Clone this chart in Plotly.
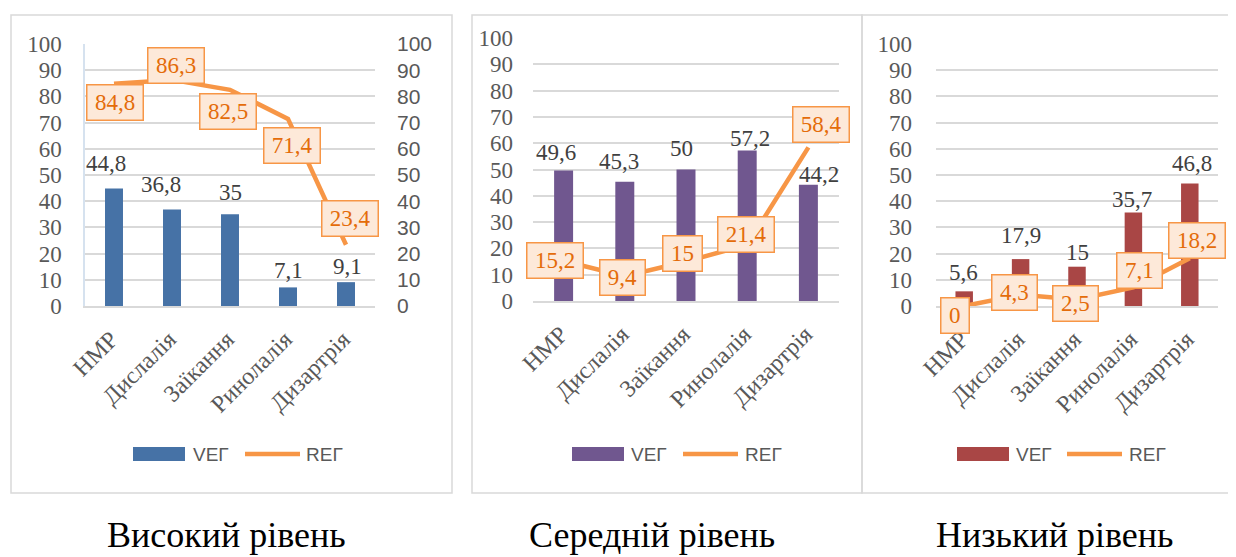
import plotly.graph_objects as go

# ---------------- data ----------------
categories = ["НМР", "Дислалія", "Заїкання", "Ринолалія", "Дизартрія"]
high_veg = [44.8, 36.8, 35, 7.1, 9.1]
high_reg = [84.8, 86.3, 82.5, 71.4, 23.4]
mid_veg = [49.6, 45.3, 50, 57.2, 44.2]
mid_reg = [15.2, 9.4, 15, 21.4, 58.4]
low_veg = [5.6, 17.9, 15, 35.7, 46.8]
low_reg = [0, 4.3, 2.5, 7.1, 18.2]
panel_titles = ["Високий рівень", "Середній рівень", "Низький рівень"]
series_names = ["VEГ", "REГ"]
y_ticks = [0, 10, 20, 30, 40, 50, 60, 70, 80, 90, 100]

# ---------------- styling / layout (pixels) ----------------
PAGE_OFF = 8          # default body margin of the page
W, H = 1236 - PAGE_OFF, 557 - PAGE_OFF
SERIF = "Liberation Serif, Times New Roman, serif"
SANS = "Liberation Sans, Arial, sans-serif"
GRAY = "#595959"
GRID = "#D9D9D9"
LINE_C = "#F79646"
LABEL_TXT = "#E46C0A"
LABEL_BG = "#FDE9D9"
bar_colors = ["#4672A6", "#70578F", "#A94645"]

# plot areas in window pixels: (x0, x1, ytop, ybottom)
areas = [(85, 375, 44, 306), (533, 839, 38, 301), (936, 1218, 44, 306)]
frames = [(11, 452, 15, 493), (472, 862, 15, 493), (862, 1250, 15, 493)]
y_standoff = [17, 19, 23]
# legend positions: rect x0, text x, line x0, text x
legend_pos = [(133, 191, 245, 304), (572, 629, 683, 743), (957, 1014, 1067, 1127)]
title_pos = [(226, 557), (652, 557), (1054, 557)]

# bar-label offsets (dx, px above bar top) and line-label offsets (dx, dy down)
bar_lab_off = [
    [(-8, 25), (-11, 25), (0, 22), (0, 17), (1, 16)],
    [(-8, 18), (-6, 20), (-5, 21), (3, 12), (11, 10)],
    [(-1, 19), (0, 24), (0, 14), (-1, 13), (2, 20)],
]
line_lab_off = [
    [(1, 19), (4, -14), (-2, 22), (4, 27), (4, -26)],
    [(-9, -1), (-2, 1), (-4, -8), (-1, -10), (13, -23)],
    [(-9, 9), (-6, -2), (-2, 4), (6, -17), (7, -18)],
]


def px(x):
    return (x - PAGE_OFF) / W


def py(y):
    return 1 - (y - PAGE_OFF) / H


def fmt(v):
    return f"{v:g}".replace(".", ",")


def text_w(s, size=23):
    w = 0
    for ch in s:
        w += size * (0.25 if ch == "," else 0.5)
    return w


fig = go.Figure()

veg_sets = [high_veg, mid_veg, low_veg]
reg_sets = [high_reg, mid_reg, low_reg]
xa = ["x", "x2", "x3"]
ya_bar = ["y", "y2", "y3"]
ya_line = ["y4", "y2", "y3"]

for i in range(3):
    fig.add_trace(go.Bar(
        x=categories, y=veg_sets[i], name=series_names[0],
        marker=dict(color=bar_colors[i], line=dict(width=0)),
        width=0.31, xaxis=xa[i], yaxis=ya_bar[i], showlegend=False,
        hoverinfo="skip",
    ))
    fig.add_trace(go.Scatter(
        x=categories, y=reg_sets[i], name=series_names[1], mode="lines",
        line=dict(color=LINE_C, width=4.5), xaxis=xa[i], yaxis=ya_line[i],
        showlegend=False, hoverinfo="skip", cliponaxis=False,
    ))

annotations = []
shapes = []

for i in range(3):
    # bar value labels
    for j, (c, v) in enumerate(zip(categories, veg_sets[i])):
        dx, up = bar_lab_off[i][j]
        annotations.append(dict(
            x=c, y=v, xref=xa[i], yref=ya_bar[i], text=fmt(v), showarrow=False,
            xshift=dx, yshift=up, yanchor="middle", xanchor="center",
            font=dict(family=SERIF, size=23, color="#404040"),
        ))
    # line value labels (boxed)
    for j, (c, v) in enumerate(zip(categories, reg_sets[i])):
        dx, dy = line_lab_off[i][j]
        t = fmt(v)
        annotations.append(dict(
            x=c, y=v, xref=xa[i], yref=ya_line[i], text=t, showarrow=False,
            xshift=dx, yshift=-dy, yanchor="middle", xanchor="center",
            width=text_w(t) + 9, height=28, borderpad=3,
            bgcolor=LABEL_BG, bordercolor=LINE_C, borderwidth=1.5,
            font=dict(family=SERIF, size=23, color=LABEL_TXT),
        ))
    # panel frame
    fx0, fx1, fy0, fy1 = frames[i]
    shapes.append(dict(type="rect", xref="paper", yref="paper",
                       x0=px(fx0), x1=px(fx1), y0=py(fy1), y1=py(fy0),
                       line=dict(color=GRID, width=1.5), layer="below"))
    # legend
    rx, tx1, lx, tx2 = legend_pos[i]
    ly = 454
    shapes.append(dict(type="rect", xref="paper", yref="paper",
                       x0=px(rx), x1=px(rx + 52), y0=py(ly + 7), y1=py(ly - 7),
                       fillcolor=bar_colors[i], line=dict(width=0)))
    shapes.append(dict(type="line", xref="paper", yref="paper",
                       x0=px(lx), x1=px(lx + 55), y0=py(ly), y1=py(ly),
                       line=dict(color=LINE_C, width=4.5)))
    annotations.append(dict(x=px(tx1), y=py(ly), xref="paper", yref="paper",
                            text=series_names[0], showarrow=False, xanchor="left",
                            yanchor="middle",
                            font=dict(family=SANS, size=19, color=GRAY)))
    annotations.append(dict(x=px(tx2), y=py(ly), xref="paper", yref="paper",
                            text=series_names[1], showarrow=False, xanchor="left",
                            yanchor="middle",
                            font=dict(family=SANS, size=19, color=GRAY)))
    # panel title
    tx, ty = title_pos[i]
    annotations.append(dict(x=px(tx), y=py(ty), xref="paper", yref="paper",
                            text=panel_titles[i], showarrow=False,
                            xanchor="center", yanchor="bottom",
                            font=dict(family=SERIF, size=36, color="#000000")))

layout = dict(
    width=W, height=H,
    margin=dict(l=0, r=0, t=0, b=0, pad=0, autoexpand=False),
    paper_bgcolor="white", plot_bgcolor="white",
    showlegend=False, annotations=annotations, shapes=shapes,
)

for i in range(3):
    x0, x1, yt, yb = areas[i]
    xname = "xaxis" if i == 0 else f"xaxis{i + 1}"
    yname = "yaxis" if i == 0 else f"yaxis{i + 1}"
    layout[xname] = dict(
        domain=[px(x0), px(x1)], anchor=ya_bar[i], type="category",
        categoryorder="array", categoryarray=categories, automargin=False,
        range=[-0.5, 4.5], tickangle=-45, showgrid=False, zeroline=False,
        showline=True, linecolor=GRID, linewidth=1.5, ticks="",
        tickfont=dict(family=SERIF, size=24, color=GRAY),
        ticklabelstandoff=8, ticklabelshift=-3,
    )
    layout[yname] = dict(
        domain=[py(yb), py(yt)], anchor=xa[i], range=[0, 100], automargin=False,
        tickvals=y_ticks, ticktext=[str(t) for t in y_ticks],
        showgrid=True, gridcolor=GRID, gridwidth=1.5, zeroline=False,
        showline=(i == 0), linecolor="#D6E2EF", linewidth=1.5, ticks="",
        tickfont=dict(family=SERIF, size=23, color=GRAY),
        ticklabelstandoff=y_standoff[i],
    )

layout["yaxis4"] = dict(
    overlaying="y", anchor="x", side="right", range=[0, 100], automargin=False,
    tickvals=y_ticks, ticktext=[str(t) for t in y_ticks],
    showgrid=False, zeroline=False, showline=False, ticks="",
    tickfont=dict(family=SANS, size=21, color=GRAY),
    ticklabelstandoff=21,
)

fig.update_layout(**layout)
fig.write_html("out.html")
